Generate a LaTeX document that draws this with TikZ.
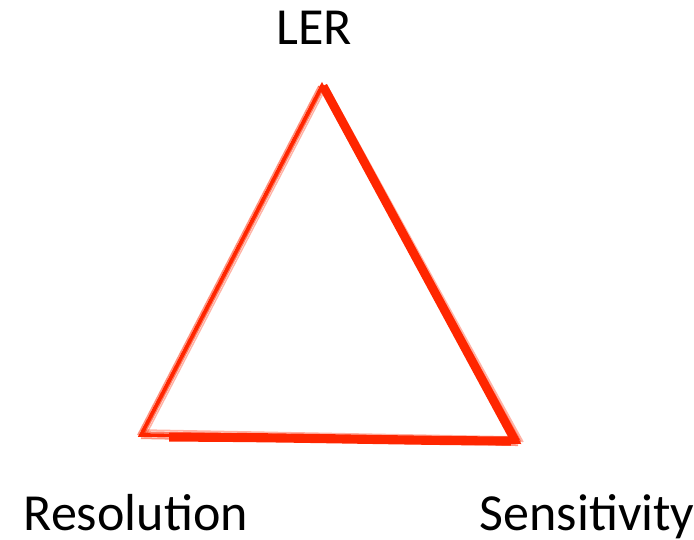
\documentclass[tikz,border=0pt]{standalone}
\usepackage{fontspec}
\setmainfont{Carlito}
\usepackage{xcolor}
\definecolor{sketchred}{RGB}{255,38,0}

\begin{document}
\begin{tikzpicture}[x=0.01cm, y=-0.01cm,
  vlabel/.style={font=\fontsize{14.8}{17}\selectfont, inner sep=0pt, anchor=base},
  stroke/.style={draw=sketchred, line join=miter, line cap=butt}]
  \useasboundingbox (0,0) rectangle (694,539);
  \coordinate (apex) at (322,86);
  \coordinate (lcorner) at (141,435);
  \coordinate (rcorner) at (518,442);
  % main outline
  \draw[stroke, line width=1.1pt] (lcorner) -- (apex) -- (rcorner) -- cycle;
  % heavier right and bottom edges
  \draw[stroke, line width=2.5pt] ([xshift=0.3pt]apex) -- ([xshift=-0.6pt]rcorner);
  \draw[stroke, line width=2.6pt] ([xshift=8pt,yshift=-0.6pt]lcorner) .. controls (280,437) and (420,441) .. ([xshift=-2pt,yshift=0.3pt]rcorner);
  % rough strokes
  \foreach \d/\o in {-0.9/0.5, 0.8/0.6, 1.4/0.35} {
    \draw[stroke, line width=0.4pt, opacity=\o] ([xshift=\d pt]lcorner) -- ([xshift=\d pt]apex);
    \draw[stroke, line width=0.5pt, opacity=\o] ([xshift=\d pt]apex) -- ([xshift=\d pt]rcorner);
    \draw[stroke, line width=0.5pt, opacity=\o] ([yshift=\d pt]lcorner) -- ([yshift=\d pt]rcorner);
  }
  \node[vlabel] (ler) at (314,44) {LER};
  \node[vlabel, anchor=base west] (res) at (23,530) {Resolution};
  \node[vlabel, anchor=base west] (sens) at (479,530) {Sensitivity};
\end{tikzpicture}
\end{document}
